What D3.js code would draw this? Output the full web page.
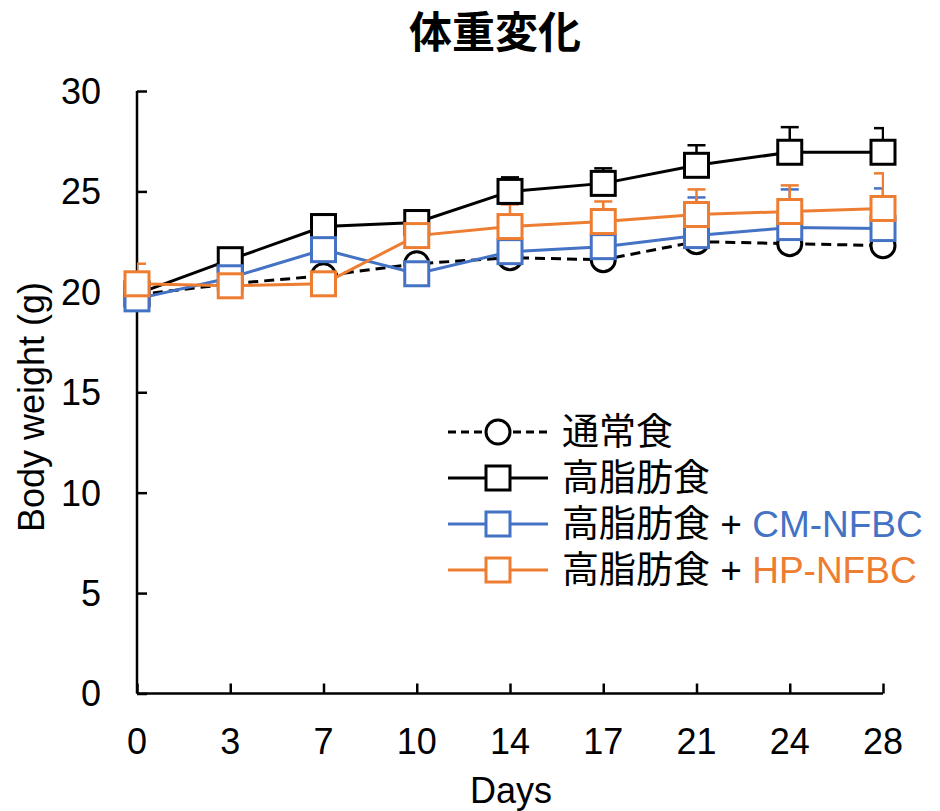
<!DOCTYPE html>
<html><head><meta charset="utf-8">
<script src="https://cdn.jsdelivr.net/npm/d3@7/dist/d3.min.js"></script>
<style>body{margin:0;background:#fff}svg{display:block}</style>
</head><body>
<svg id="c" width="940" height="811"></svg>
<script>
const days = ["0","3","7","10","14","17","21","24","28"];
const yTicks = [0,5,10,15,20,25,30];
const normal    = [19.85, 20.4, 20.8, 21.4, 21.7, 21.6, 22.5, 22.4, 22.3];
const normalErr = [0.3, 0.3, 0.3, 0.3, 0.3, 0.4, 0.4, 0.4, 0.4];
const hfd       = [19.9, 21.6, 23.25, 23.45, 25.0, 25.4, 26.3, 26.95, 26.95];
const hfdErr    = [0.3, 0.5, 0.6, 0.6, 0.7, 0.75, 1.0, 1.25, 1.2];
const cm        = [19.65, 20.7, 22.1, 20.9, 22.0, 22.25, 22.8, 23.2, 23.15];
const cmErr     = [0.3, 0.4, 0.5, 0.5, 0.6, 0.6, 1.9, 1.9, 2.0];
const hp        = [20.4, 20.3, 20.4, 22.8, 23.25, 23.5, 23.85, 24.0, 24.15];
const hpErr     = [1.0, 0.3, 0.3, 1.25, 1.1, 1.0, 1.25, 1.3, 1.75];
const seriesNames = ["通常食", "高脂肪食", "高脂肪食", "高脂肪食"];
const seriesSuffix = ["", "", "CM-NFBC", "HP-NFBC"];
const colors = ["#000000", "#000000", "#4472C4", "#ED7D31"];
const markers = ["circle", "square", "square", "square"];
const dashed = [true, false, false, false];

const series = [normal, hfd, cm, hp].map((v,i)=>({values:v, err:[normalErr,hfdErr,cmErr,hpErr][i],
  name:seriesNames[i], suffix:seriesSuffix[i], color:colors[i], marker:markers[i], dashed:dashed[i]}));

const svg = d3.select("#c");
const L = 137, R = 883, T = 91, B = 693.5;
const x = d3.scalePoint().domain(days).range([L, R]);
const y = d3.scaleLinear().domain([0,30]).range([B, T]);
const latin = "'Liberation Sans', Arial, 'Noto Sans CJK JP', sans-serif";

svg.append("defs").append("clipPath").attr("id","pc")
  .append("rect").attr("x",L).attr("y",0).attr("width",R-L+1).attr("height",B);

// title
svg.append("text").attr("x",495).attr("y",48).attr("text-anchor","middle")
  .attr("font-family",latin).attr("font-weight","bold")
  .attr("font-size",43).text("体重変化");

// axes
const yAxis = svg.append("g").attr("transform",`translate(${L},0)`)
  .call(d3.axisRight(y).tickValues(yTicks).tickSize(10).tickFormat(""));
const xAxis = svg.append("g").attr("transform",`translate(0,${B})`)
  .call(d3.axisTop(x).tickSize(10).tickFormat(""));
[yAxis,xAxis].forEach(a=>{a.selectAll("path,line").attr("stroke","#000").attr("stroke-width",2.5);});
yAxis.select(".domain").attr("d",`M0,${T}V${B}`);
xAxis.select(".domain").attr("d",`M${L},0H${R}`);

svg.append("g").selectAll("text").data(yTicks).join("text")
  .attr("x",101).attr("y",d=>y(d)).attr("dy","0.36em").attr("text-anchor","end")
  .attr("font-family",latin).attr("font-size",36).text(d=>d);
svg.append("g").selectAll("text").data(days).join("text")
  .attr("x",d=>x(d)).attr("y",754).attr("text-anchor","middle")
  .attr("font-family",latin).attr("font-size",36).text(d=>d);

svg.append("text").attr("x",511).attr("y",803).attr("text-anchor","middle")
  .attr("font-family",latin).attr("font-size",36).text("Days");
svg.append("text").attr("transform","translate(44,407) rotate(-90)").attr("text-anchor","middle")
  .attr("font-family",latin).attr("font-size",36).text("Body weight (g)");

// error bars (plus only), clipped to plot
const eg = svg.append("g").attr("clip-path","url(#pc)");
series.forEach(s=>{
  s.values.forEach((v,i)=>{
    const cx = x(days[i]), y0 = y(v), y1 = y(v + s.err[i]);
    eg.append("line").attr("x1",cx).attr("x2",cx).attr("y1",y0).attr("y2",y1)
      .attr("stroke",s.color).attr("stroke-width",2.5);
    eg.append("line").attr("x1",cx-9).attr("x2",cx+9).attr("y1",y1).attr("y2",y1)
      .attr("stroke",s.color).attr("stroke-width",2.5);
  });
});

const line = d3.line().x((d,i)=>x(days[i])).y(d=>y(d));
const ms = 24;
function drawMarker(g, s, cx, cy){
  if (s.marker==="circle"){
    g.append("circle").attr("cx",cx).attr("cy",cy).attr("r",12)
      .attr("fill","#fff").attr("stroke",s.color).attr("stroke-width",3);
  } else {
    g.append("rect").attr("x",cx-ms/2).attr("y",cy-ms/2).attr("width",ms).attr("height",ms)
      .attr("fill","#fff").attr("stroke",s.color).attr("stroke-width",3);
  }
}
series.forEach(s=>{
  const g = svg.append("g");
  g.append("path").datum(s.values).attr("d",line).attr("fill","none")
    .attr("stroke",s.color).attr("stroke-width",3)
    .attr("stroke-dasharray", s.dashed ? "10,6" : null);
  s.values.forEach((v,i)=>drawMarker(g, s, x(days[i]), y(v)));
});

// legend
const legY = [432, 478, 524, 570];
series.forEach((s,i)=>{
  const g = svg.append("g");
  const ly = legY[i];
  g.append("line").attr("x1",448).attr("x2",548).attr("y1",ly).attr("y2",ly)
    .attr("stroke",s.color).attr("stroke-width",3)
    .attr("stroke-dasharray", s.dashed ? "8,5" : null);
  drawMarker(g, s, 498, ly);
  const t = g.append("text").attr("x",562).attr("y",ly).attr("dy","0.36em")
    .attr("font-family",latin).attr("font-size",37);
  t.append("tspan").attr("fill","#000").text(s.name);
  if (s.suffix) {
    t.append("tspan").attr("fill","#000").text(" + ");
    t.append("tspan").attr("fill",s.color).text(s.suffix);
  }
});
</script>
</body></html>
